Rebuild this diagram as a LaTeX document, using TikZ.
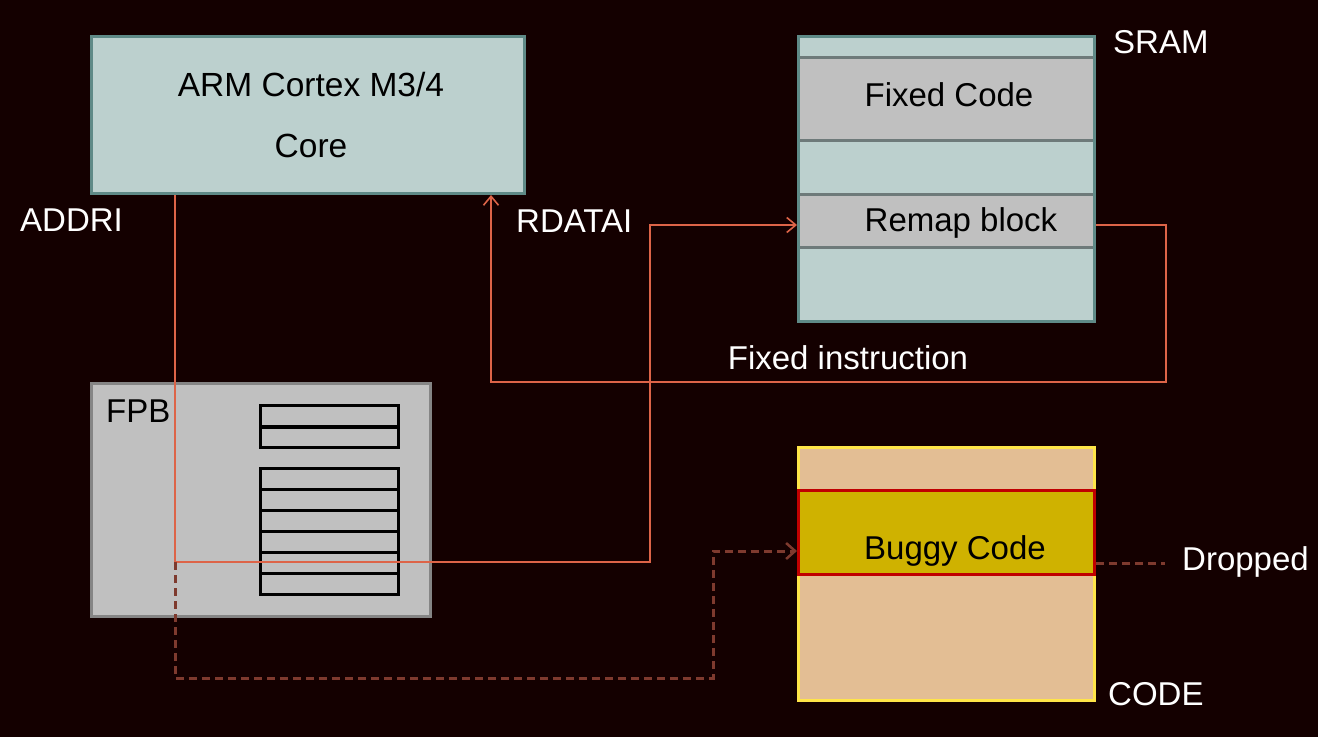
\documentclass[tikz,border=0pt]{standalone}
\usepackage{fontspec}
\setmainfont{Liberation Sans}
\usetikzlibrary{arrows.meta}
\definecolor{bgc}{HTML}{140000}
\definecolor{corefill}{HTML}{BCD0CE}
\definecolor{coreline}{HTML}{5F8A87}
\definecolor{grayfill}{HTML}{C0C0C0}
\definecolor{divline}{HTML}{6E7A7A}
\definecolor{fpbline}{HTML}{858585}
\definecolor{codefill}{HTML}{E3BE94}
\definecolor{codeline}{HTML}{FFE548}
\definecolor{buggyfill}{HTML}{CFB200}
\definecolor{buggyline}{HTML}{C00000}
\definecolor{wirec}{HTML}{DD6448}
\definecolor{dwirec}{HTML}{7E3A2E}
\tikzset{
  box/.style={rectangle, inner sep=0pt, anchor=north west, line width=3pt},
  lbl/.style={inner sep=0pt, font=\fontsize{33}{39}\selectfont},
  wlbl/.style={lbl, text=white},
  wire/.style={draw=wirec, line width=1.6pt},
  dwire/.style={draw=dwirec, line width=3pt, dash pattern=on 8pt off 5pt},
  barb/.style={-{Straight Barb[length=9pt,width=15pt,line width=1.6pt]}},
  dbarb/.style={-{Straight Barb[length=9pt,width=16pt,line width=2.5pt]}},
  reg/.style={rectangle, draw=black, line width=3pt, inner sep=0pt, anchor=north west, minimum width=138pt},
}
\begin{document}
\begin{tikzpicture}[x=1pt,y=-1pt]
\fill[bgc] (0,0) rectangle (1318,737);
\useasboundingbox (0,0) rectangle (1318,737);

% Core
\node[box, fill=corefill, draw=coreline, minimum width=433pt, minimum height=157pt] (core) at (90,35) {};
\node[lbl, anchor=base, font=\fontsize{33.5}{39}\selectfont] (coret1) at (311,96) {ARM Cortex M3/4};
\node[lbl, anchor=base, font=\fontsize{33.5}{39}\selectfont] (coret2) at (311,157) {Core};

% SRAM
\node[box, fill=corefill, draw=none, minimum width=296pt, minimum height=285pt] (sram) at (797,35) {};
\node[box, fill=grayfill, draw=divline, minimum width=296pt, minimum height=83pt] (fixed) at (797,56) {};
\node[box, fill=grayfill, draw=divline, minimum width=296pt, minimum height=53pt] (remap) at (797,193) {};
\node[box, draw=coreline, minimum width=296pt, minimum height=285pt] (sramb) at (797,35) {};
\node[lbl, anchor=base] (fixedt) at (949,106) {Fixed Code};
\node[lbl, anchor=base] (remapt) at (961,231) {Remap block};
\node[wlbl, anchor=base west] (sramt) at (1113,53) {SRAM};

% FPB
\node[box, fill=grayfill, draw=fpbline, minimum width=339pt, minimum height=233pt] (fpb) at (90,382) {};
\node[lbl, anchor=base west] (fpbt) at (106,422) {FPB};
\node[reg, minimum height=22pt] (r1) at (259,404) {};
\node[reg, minimum height=21pt] (r2) at (259,425) {};
\node[reg, minimum height=21pt] (r3) at (259,467) {};
\node[reg, minimum height=21pt] (r4) at (259,488) {};
\node[reg, minimum height=21pt] (r5) at (259,509) {};
\node[reg, minimum height=21pt] (r6) at (259,530) {};
\node[reg, minimum height=21pt] (r7) at (259,551) {};
\node[reg, minimum height=21pt] (r8) at (259,572) {};

% CODE
\node[box, fill=codefill, draw=codeline, minimum width=296pt, minimum height=253pt] (code) at (797,446) {};
\node[box, fill=buggyfill, draw=buggyline, minimum width=296pt, minimum height=84pt] (buggy) at (797,489) {};
\node[lbl, anchor=base] (buggyt) at (955,559) {Buggy Code};
\node[wlbl, anchor=base west] (codet) at (1108,705) {CODE};

% labels
\node[wlbl, anchor=base west] (addri) at (20,231) {ADDRI};
\node[wlbl, anchor=base west] (rdatai) at (516,232) {RDATAI};
\node[wlbl, anchor=base] (fixins) at (848,369) {Fixed instruction};
\node[wlbl, anchor=base west] (dropt) at (1182,570) {Dropped};

% coordinates
\coordinate (j1) at (175,562);
\coordinate (k1) at (650,225);
\coordinate (q1) at (1166,382);
\coordinate (q2) at (491,382);
\coordinate (d1) at (175,678);
\coordinate (d2) at (713,551);
\coordinate (dr) at (1165,563);

% wires
\draw[wire, barb] (core.south -| j1) -- (j1) -| (k1) -- (k1 -| remap.west);
\draw[wire, barb] (remap.east |- k1) -| (q1) -- (q2) -- (core.south -| q2);
\draw[dwire, dbarb] (j1) -- (d1) -| (d2) -- (d2 -| buggy.west);
\draw[dwire] (dr -| buggy.east) -- (dr);
\end{tikzpicture}
\end{document}
